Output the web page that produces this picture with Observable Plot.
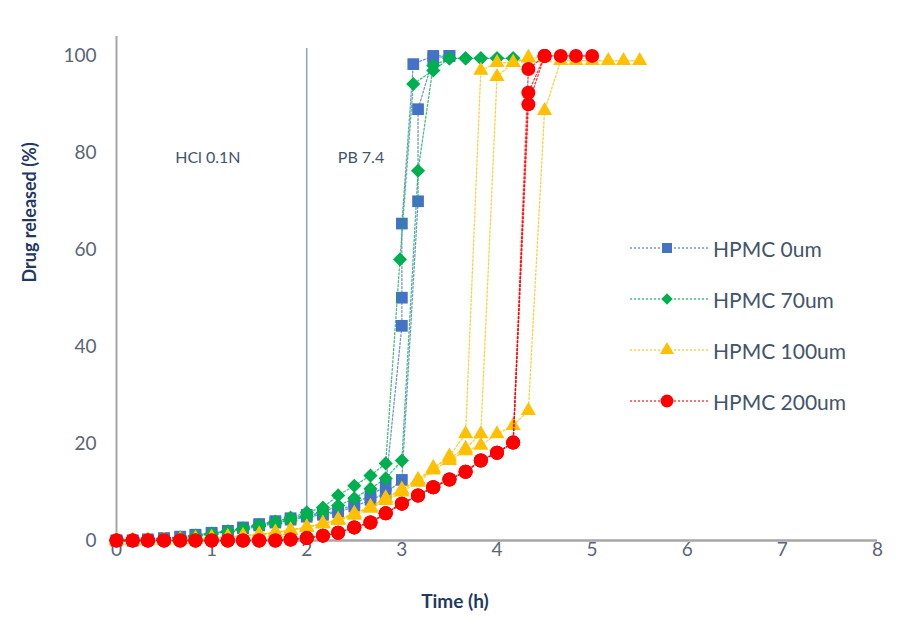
<!DOCTYPE html>
<html><head><meta charset="utf-8">
<script src="https://cdn.jsdelivr.net/npm/d3@7"></script>
<script src="https://cdn.jsdelivr.net/npm/@observablehq/plot@0.6"></script>
<style>
body{margin:0;background:#fff;}
#wrap{position:relative;width:917px;height:630px;background:#fff;}
.leg{position:absolute;left:628px;height:28px;display:flex;align-items:center;font-family:Lato,sans-serif;font-size:21px;color:#44546a;white-space:nowrap;}
.leg svg{display:block;margin-right:3px;}
</style></head><body><div id="wrap"></div>
<script>
// ---- tick labels / categories ----
const xTicks = [0, 1, 2, 3, 4, 5, 6, 7, 8];
const yTicks = [0, 20, 40, 60, 80, 100];
const seriesNames = ["HPMC 0um", "HPMC 70um", "HPMC 100um", "HPMC 200um"];
const seriesColors = ["#4472c4", "#00b050", "#ffc000", "#ff0000"];
const seriesSymbols = ["square", "diamond2", "triangle", "circle"];
const phaseChangeTime = [2];
const phaseLabels = ["HCl 0.1N", "PB 7.4"];
const phaseLabelT = [0.96, 2.57];
const phaseLabelY = [79, 79];

// ---- HPMC 0um (two replicates) ----
const h0_r1_t = [0,0.17,0.33,0.5,0.67,0.83,1,1.17,1.33,1.5,1.67,1.83,2,2.17,2.33,2.5,2.67,2.83,3,3,3,3.12,3.33,3.5];
const h0_r1_y = [0,0,0.2,0.5,0.8,1.2,1.6,2,2.7,3.4,4,4.6,5.3,5.6,6,7.6,9.3,11.3,44.3,50.1,65.4,98.3,100,100];
const h0_r2_t = [0,0.17,0.33,0.5,0.67,0.83,1,1.17,1.33,1.5,1.67,1.83,2,2.17,2.33,2.5,2.67,2.83,3,3.17,3.17,3.33,3.5];
const h0_r2_y = [0,0,0.2,0.4,0.7,1.1,1.5,1.9,2.5,3.1,3.7,4.3,4.9,5.3,5.8,7,8.4,9.7,12.5,70,89,99.5,100];

// ---- HPMC 70um (two replicates) ----
const h70_r1_t = [0,0.17,0.33,0.5,0.67,0.83,1,1.17,1.33,1.5,1.67,1.83,2,2.17,2.33,2.5,2.67,2.83,2.98,3.12,3.33,3.5,3.67,3.83,4,4.17];
const h70_r1_y = [0,0,0,0.3,0.6,1,1.4,1.9,2.5,3.2,3.9,4.7,5.8,6.8,9.3,11.3,13.4,15.9,58,94.2,97,99.5,99.5,99.5,99.5,99.5];
const h70_r2_t = [0,0.17,0.33,0.5,0.67,0.83,1,1.17,1.33,1.5,1.67,1.83,2,2.17,2.33,2.5,2.67,2.83,3,3.17,3.33,3.5,3.67,3.83,4,4.17];
const h70_r2_y = [0,0,0,0.2,0.5,0.9,1.3,1.8,2.3,2.9,3.5,4.2,5,5.8,7.2,8.7,10.7,12.8,16.5,76.3,98,99.5,99.5,99.5,99.5,99.5];

// ---- HPMC 100um (three replicates) ----
const h100_r1_t = [0,0.17,0.33,0.5,0.67,0.83,1,1.17,1.33,1.5,1.67,1.83,2,2.17,2.33,2.5,2.67,2.83,3,3.17,3.33,3.5,3.67,3.83,4,4.17,4.33,4.5];
const h100_r1_y = [0,0,0,0,0.2,0.4,0.6,0.8,1,1.3,1.7,2.2,2.8,3.5,4.3,5.5,6.9,8.6,10.4,12.4,14.9,17.4,22,97,98.6,98.6,99.6,99.6];
const h100_r2_t = [0,0.17,0.33,0.5,0.67,0.83,1,1.17,1.33,1.5,1.67,1.83,2,2.17,2.33,2.5,2.67,2.83,3,3.17,3.33,3.5,3.67,3.83,4,4.17,4.33];
const h100_r2_y = [0,0,0,0,0.1,0.3,0.5,0.7,0.9,1.2,1.6,2.1,2.7,3.5,4.3,5.6,7,8.8,10.6,12.6,15,17,19,22,95.7,98.6,99.6];
const h100_r3_t = [0,0.17,0.33,0.5,0.67,0.83,1,1.17,1.33,1.5,1.67,1.83,2,2.17,2.33,2.5,2.67,2.83,3,3.17,3.33,3.5,3.67,3.83,4,4.17,4.33,4.5,4.67,4.83,5,5.17,5.33,5.5];
const h100_r3_y = [0,0,0,0,0.1,0.3,0.5,0.7,0.9,1.2,1.6,2.1,2.7,3.4,4.1,5.2,6.6,8.2,10,12,14.5,16.5,18.5,19.6,22,23.7,26.8,88.7,99,99,99,99,99,99];

// ---- HPMC 200um (three replicates) ----
const h200_r1_t = [0,0.17,0.33,0.5,0.67,0.83,1,1.17,1.33,1.5,1.67,1.83,2,2.17,2.33,2.5,2.67,2.83,3,3.17,3.33,3.5,3.67,3.83,4,4.17,4.33,4.5,4.67,4.83,5];
const h200_r1_y = [0,0,0,0,0,0,0,0,0,0,0,0.2,0.5,1,1.6,2.7,3.7,5.6,7.6,9.3,11,12.6,14.2,16.5,18.1,20.2,90,100,100,100,100];
const h200_r2_t = [0,0.17,0.33,0.5,0.67,0.83,1,1.17,1.33,1.5,1.67,1.83,2,2.17,2.33,2.5,2.67,2.83,3,3.17,3.33,3.5,3.67,3.83,4,4.17,4.33,4.5];
const h200_r2_y = [0,0,0,0,0,0,0,0,0,0,0,0.2,0.5,1,1.6,2.7,3.7,5.6,7.6,9.3,11,12.6,14.2,16.5,18.1,20.2,92.4,100];
const h200_r3_t = [0,0.17,0.33,0.5,0.67,0.83,1,1.17,1.33,1.5,1.67,1.83,2,2.17,2.33,2.5,2.67,2.83,3,3.17,3.33,3.5,3.67,3.83,4,4.17,4.33,4.5];
const h200_r3_y = [0,0,0,0,0,0,0,0,0,0,0,0.2,0.5,1,1.6,2.7,3.7,5.6,7.6,9.3,11,12.6,14.2,16.5,18.1,20.2,97.3,100];

// ---- build table ----
const replicates = [
  [0, "a", h0_r1_t, h0_r1_y], [0, "b", h0_r2_t, h0_r2_y],
  [1, "a", h70_r1_t, h70_r1_y], [1, "b", h70_r2_t, h70_r2_y],
  [2, "a", h100_r1_t, h100_r1_y], [2, "b", h100_r2_t, h100_r2_y], [2, "c", h100_r3_t, h100_r3_y],
  [3, "a", h200_r1_t, h200_r1_y], [3, "b", h200_r2_t, h200_r2_y], [3, "c", h200_r3_t, h200_r3_y]
];
const rows = [];
for (const [s, rep, ts, ys] of replicates) ts.forEach((t, i) => rows.push({s, rep, t, y: ys[i]}));

const markerR = [6.6, 6.4, 5.6, 7];
const seriesMarks = [];
seriesNames.forEach((name, s) => {
  const d = rows.filter(r => r.s === s);
  seriesMarks.push(Plot.line(d, {x: "t", y: "y", z: "rep", stroke: seriesColors[s], strokeWidth: 1.3, strokeDasharray: "2,2", strokeOpacity: 0.75}));
  seriesMarks.push(Plot.dot(d, {x: "t", y: "y", symbol: seriesSymbols[s], r: markerR[s], fill: seriesColors[s], stroke: "none"}));
});

const phaseText = phaseLabels.map((label, i) => ({label, t: phaseLabelT[i], y: phaseLabelY[i]}));

const chart = Plot.plot({
  width: 917, height: 630,
  marginLeft: 116, marginRight: 40, marginTop: 36, marginBottom: 90,
  style: {fontFamily: "Lato, sans-serif", background: "#fff"},
  x: {domain: [0, 8]},
  y: {domain: [0, 104]},
  marks: [
    Plot.ruleX([0], {y1: 0, y2: 104, stroke: "#a6a6a6", strokeWidth: 2}),
    Plot.ruleX(phaseChangeTime, {y1: 0, y2: 101.5, stroke: "#8fa2c9", strokeWidth: 1.5}),
    Plot.ruleY([0], {x1: 0, x2: 8, stroke: "#a6a6a6", strokeWidth: 2.5}),
    Plot.axisX({ticks: xTicks, tickSize: 0, tickPadding: 2, fontSize: 19, fill: "#5b6578", label: null}),
    Plot.axisY({ticks: yTicks, tickSize: 0, tickPadding: 20, fontSize: 19, fill: "#5b6578", label: null}),
    Plot.text(phaseText, {x: "t", y: "y", text: "label", fontSize: 16, fill: "#44546a"}),
    ...seriesMarks,
    Plot.text(["Time (h)"], {frameAnchor: "bottom", dx: -42, dy: 67, fontSize: 19, fontWeight: "bold", fill: "#1f3864"}),
    Plot.text(["Drug released (%)"], {frameAnchor: "left", rotate: -90, dx: -86, dy: -6, fontSize: 18, fontWeight: "bold", fill: "#1f3864"})
  ]
});
const wrap = document.getElementById("wrap");
wrap.appendChild(chart);

// ---- legend (HTML overlay) ----
const symMap = {square: d3.symbolSquare, diamond2: d3.symbolDiamond2, triangle: d3.symbolTriangle, circle: d3.symbolCircle};
const legendArea = [100, 85, 85, 130];
seriesNames.forEach((name, s) => {
  const div = document.createElement("div");
  div.className = "leg";
  div.style.top = (234 + s * 51) + "px";
  const svg = d3.create("svg").attr("width", 82).attr("height", 20);
  svg.append("line").attr("x1", 2).attr("x2", 80).attr("y1", 10).attr("y2", 10)
    .attr("stroke", seriesColors[s]).attr("stroke-width", 1.3).attr("stroke-dasharray", "2,2").attr("stroke-opacity", 0.75);
  svg.append("path").attr("transform", "translate(39,10)")
    .attr("d", d3.symbol(symMap[seriesSymbols[s]], legendArea[s])())
    .attr("fill", seriesColors[s]);
  div.appendChild(svg.node());
  const span = document.createElement("span");
  span.textContent = name;
  div.appendChild(span);
  wrap.appendChild(div);
});
</script></body></html>
